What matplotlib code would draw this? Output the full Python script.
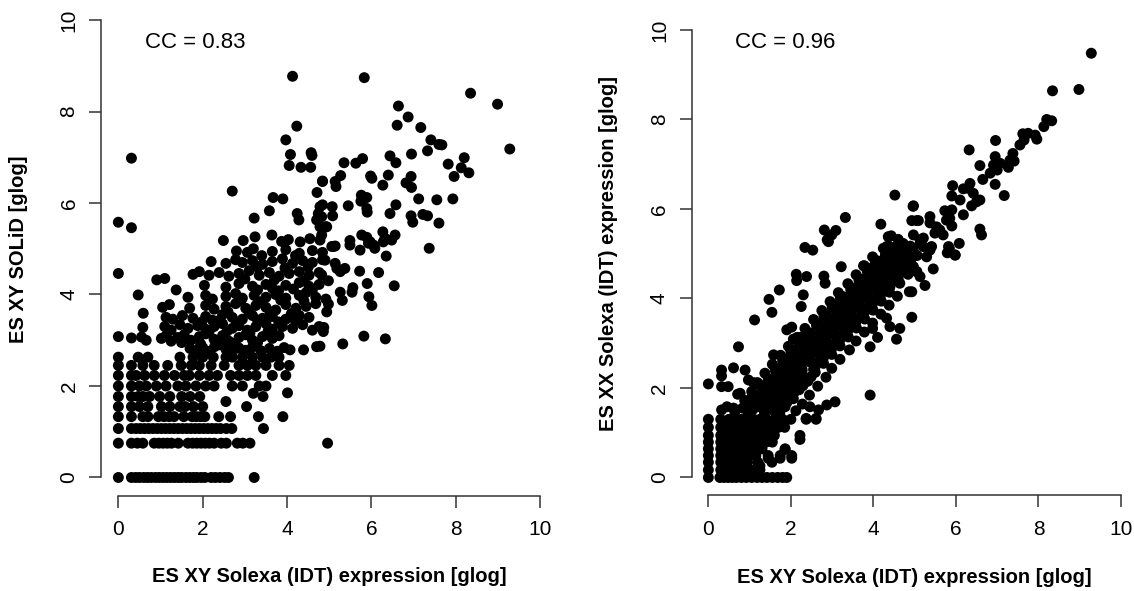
import numpy as np
import matplotlib
matplotlib.use("Agg")
import matplotlib.pyplot as plt

plt.rcParams['font.family'] = ['Liberation Sans', 'DejaVu Sans']

# ---- left panel: SOLiD vs Solexa, discrete low-count rows (y level -> x values)
left_row_levels = [0.0, 0.75, 1.07, 1.33, 1.55, 1.77, 2.0, 2.23, 2.45, 2.63]
left_row_x = [
    [0, 0.31, 0.41, 0.5, 0.6, 0.69, 0.78, 0.88, 0.97, 1.06, 1.15, 1.24, 1.33, 1.42, 1.5, 1.6,
     1.69, 1.78, 1.86, 1.96, 2.05, 2.2, 2.3, 2.41, 2.52, 2.61, 3.22],
    [0, 0.31, 0.45, 0.58, 0.85, 0.96, 1.06, 1.16, 1.26, 1.42, 1.65, 1.76, 1.86, 1.96, 2.06,
     2.16, 2.27, 2.44, 2.56, 2.82, 2.95, 3.12, 4.96],
    [0, 0.31, 0.42, 0.52, 0.62, 0.72, 0.82, 0.92, 1.02, 1.12, 1.22, 1.32, 1.42, 1.52, 1.62,
     1.72, 1.82, 1.92, 2.02, 2.12, 2.22, 2.32, 2.42, 2.56, 2.69, 3.44],
    [0, 0.31, 0.58, 0.7, 0.95, 1.08, 1.2, 1.32, 1.55, 1.75, 1.85, 1.95, 2.05, 2.38, 2.66, 3.32, 3.9],
    [0, 0.31, 0.5, 0.7, 1.02, 1.22, 1.46, 1.58, 1.78, 2.0, 3.04],
    [0, 0.31, 0.47, 0.58, 0.74, 0.98, 1.22, 1.5, 1.7, 1.93, 3.43],
    [0, 0.31, 0.5, 0.66, 0.9, 1.13, 1.41, 1.6, 1.84, 2.07, 2.27, 2.7, 2.94, 3.34, 3.5],
    [0, 0.31, 0.42, 0.62, 0.85, 1.09, 1.33, 1.56, 1.68, 1.92, 2.15, 2.35, 2.66, 2.86, 3.06,
     3.26, 3.65, 3.97],
    [0, 0.31, 0.58, 0.85, 1.17, 1.49, 1.73, 1.92, 2.2, 2.51, 2.86, 3.06, 3.26, 3.5, 3.81, 4.05],
    [0, 0.47, 0.7, 1.46, 1.77, 2.0, 2.25, 2.55, 2.7, 2.94, 3.18, 3.42, 3.62, 3.81],
]

# left panel, continuous part (x, y)
left_body = [
    (2.55, 1.66), (3.2, 1.84), (4.01, 1.85),
    (1.70, 2.82), (1.85, 2.78), (2.0, 2.84), (2.17, 2.76), (2.28, 2.86), (2.55, 2.8), (2.7, 2.74),
    (2.86, 2.83), (3.02, 2.78), (3.18, 2.85), (3.38, 2.77), (3.58, 2.82), (3.77, 2.76), (3.93, 2.84),
    (4.07, 2.79), (4.39, 2.79), (4.7, 2.86),
    (0, 3.08), (0.31, 3.05), (0.55, 3.07), (0.66, 3.0), (1.02, 3.04), (1.13, 3.1), (1.25, 2.98),
    (1.41, 3.06), (1.56, 3.12), (1.72, 3.0), (1.92, 3.08), (2.07, 3.14), (2.27, 3.02), (2.47, 3.1),
    (2.62, 2.98), (2.86, 3.06), (3.02, 3.12), (3.18, 3.0), (3.42, 3.08), (3.65, 3.04), (3.81, 3.1),
    (4.78, 2.87), (5.32, 2.92), (5.82, 3.09), (6.33, 3.03),
    (0.58, 3.28), (1.1, 3.3), (1.25, 3.22), (1.46, 3.34), (1.65, 3.26), (1.88, 3.32), (2.07, 3.24),
    (2.27, 3.3), (2.47, 3.36), (2.7, 3.26), (2.86, 3.32), (3.06, 3.22), (3.26, 3.3), (3.5, 3.36),
    (3.65, 3.24), (3.89, 3.3), (4.13, 3.26), (4.37, 3.34), (4.6, 3.22), (4.76, 3.3), (4.87, 3.28),
    (4.86, 3.19),
    (1.13, 3.5), (1.29, 3.46), (1.52, 3.54), (1.77, 3.48), (2.07, 3.52), (2.23, 3.44), (2.47, 3.56),
    (2.7, 3.5), (2.94, 3.46), (3.18, 3.54), (3.42, 3.48), (3.65, 3.52), (3.97, 3.46), (4.29, 3.54),
    (4.52, 3.5), (4.94, 3.62),
    (0.59, 3.59), (1.05, 3.72), (1.21, 3.78), (1.69, 3.7), (2.07, 3.76), (2.27, 3.68), (2.55, 3.74),
    (2.78, 3.8), (3.02, 3.7), (3.26, 3.76), (3.5, 3.72), (3.73, 3.66), (3.97, 3.78), (4.21, 3.7),
    (4.45, 3.74), (4.68, 3.8), (4.98, 3.79), (5.31, 3.87), (6.01, 3.76),
    (0.47, 3.99), (1.37, 4.1), (1.65, 3.94), (2.07, 3.98), (2.23, 3.9), (2.55, 3.96), (2.78, 4.02),
    (2.94, 3.92), (3.22, 3.98), (3.5, 3.94), (3.73, 4.0), (3.97, 3.92), (4.29, 3.98), (4.45, 4.04),
    (4.68, 3.94), (4.92, 3.90), (5.26, 4.05), (5.94, 3.95),
    (2.04, 4.2), (2.55, 4.16), (2.86, 4.24), (3.18, 4.18), (3.5, 4.22), (3.65, 4.14), (3.97, 4.2),
    (4.29, 4.26), (4.52, 4.18), (4.76, 4.22), (4.98, 4.3), (5.54, 4.05), (5.56, 4.15), (5.9, 4.24),
    (6.54, 4.19),
    (0, 4.46), (0.91, 4.32), (1.1, 4.35), (1.77, 4.44), (1.92, 4.5), (2.15, 4.42), (2.39, 4.48),
    (2.62, 4.4), (2.86, 4.46), (3.1, 4.52), (3.34, 4.42), (3.58, 4.48), (3.81, 4.4), (4.05, 4.46),
    (4.29, 4.5), (4.52, 4.42), (4.76, 4.48), (4.82, 4.43), (5.26, 4.5), (5.72, 4.51), (6.17, 4.48),
    (2.2, 4.72), (2.55, 4.68), (2.78, 4.76), (2.94, 4.7), (3.18, 4.74), (3.42, 4.66), (3.65, 4.72),
    (3.89, 4.78), (4.13, 4.68), (4.37, 4.74), (4.6, 4.7), (4.84, 4.76), (4.9, 4.75), (5.14, 4.68),
    (5.18, 4.57), (5.37, 4.57), (6.35, 4.84),
    (2.8, 4.95), (3.06, 4.92), (3.2, 5.0), (3.65, 4.94), (3.97, 4.98), (4.29, 4.9), (4.6, 4.96),
    (4.84, 4.92), (5.1, 5.05), (5.49, 5.08), (5.73, 4.97), (5.93, 5.12), (6.08, 5.01), (6.28, 5.15),
    (6.48, 5.19), (7.37, 5.01),
    (2.49, 5.18), (2.96, 5.18), (3.24, 5.26), (3.64, 5.3), (3.87, 5.16), (4.03, 5.2), (4.31, 5.15),
    (4.54, 5.22), (4.78, 5.19), (4.82, 5.30), (5.06, 5.05), (5.14, 5.06), (5.49, 5.18), (5.77, 5.3),
    (5.89, 5.25), (5.97, 5.15), (6.05, 5.08), (6.27, 5.37), (6.56, 5.3), (6.32, 5.23),
]

# extra points in the crowded middle of the left cloud
left_core = [
    (1.5, 2.95), (1.95, 2.92), (2.4, 2.9), (2.75, 2.93), (3.3, 2.95), (2.15, 3.18), (2.58, 3.2),
    (3.12, 3.16), (3.55, 3.2), (1.98, 3.4), (2.35, 3.42), (2.8, 3.38), (3.3, 3.44), (3.8, 3.4),
    (4.2, 3.42), (2.6, 3.62), (3.1, 3.6), (3.6, 3.62), (4.1, 3.58), (2.9, 3.86), (3.35, 3.84),
    (3.85, 3.88), (4.4, 3.86), (3.3, 4.1), (3.8, 4.08), (4.15, 4.12), (4.6, 4.1), (3.0, 4.34),
    (3.7, 4.32), (4.4, 4.3), (3.3, 4.6), (3.95, 4.58), (4.5, 4.6), (4.2, 4.85), (3.4, 4.85),
]

left_upper = [
    (4.13, 8.77), (4.23, 7.68), (3.97, 7.38), (4.08, 7.06), (4.57, 7.1), (4.59, 7.04), (4.05, 6.82),
    (4.33, 6.78), (4.56, 6.78), (0.31, 6.98), (4.84, 6.48), (4.71, 6.23), (2.70, 6.26), (3.67, 6.12),
    (3.90, 6.09), (3.58, 5.83), (3.22, 5.67), (0, 5.58), (0.31, 5.46), (4.24, 5.77), (4.28, 5.63),
    (4.78, 5.92), (4.74, 5.77), (4.82, 5.70), (4.70, 5.63), (4.78, 5.48), (4.94, 5.48),
    (5.83, 8.74), (8.35, 8.40), (8.99, 8.16), (9.28, 7.18), (6.64, 8.12), (6.87, 7.88), (6.61, 7.70),
    (7.17, 7.65), (7.41, 7.38), (7.60, 7.28), (7.67, 7.27), (7.33, 7.14), (6.95, 7.07), (6.44, 7.03),
    (6.58, 6.88), (5.79, 6.97), (5.63, 6.87), (5.35, 6.88), (8.20, 6.99), (7.82, 6.85), (8.13, 6.77),
    (8.31, 6.66), (7.96, 6.58), (5.27, 6.60), (5.14, 6.47), (5.16, 6.36), (4.84, 6.47), (5.98, 6.59),
    (6.01, 6.54), (6.40, 6.61), (6.27, 6.39), (6.94, 6.58), (6.82, 6.44), (6.95, 6.34), (7.12, 6.09),
    (7.55, 6.07), (7.93, 6.09), (5.76, 6.17), (5.89, 6.12), (5.75, 6.04), (5.45, 5.94), (5.07, 5.92),
    (5.08, 5.72), (4.84, 5.96), (5.89, 5.88), (5.90, 5.80), (6.58, 5.96), (6.44, 5.77), (6.94, 5.72),
    (6.98, 5.58), (7.22, 5.75), (7.33, 5.72), (7.60, 5.56), (4.92, 5.48),
]

# ---- right panel: XX vs XY Solexa
right_row_levels = [0.0, 0.17, 0.34, 0.49, 0.64, 0.79, 0.94, 1.12, 1.3]
right_row_x = [
    [0, 0.28, 0.38, 0.48, 0.58, 0.68, 0.8, 0.92, 1.05, 1.18, 1.3, 1.42, 1.55, 1.68, 1.8, 1.9],
    [0, 0.3, 0.4, 0.5, 0.6, 0.7, 0.8, 0.9, 1.02, 1.12, 1.25],
    [0, 0.3, 0.4, 0.5, 0.62, 0.72, 0.85, 0.95, 1.2, 1.54],
    [0, 0.3, 0.42, 0.55, 0.65, 0.78, 0.9, 1.0, 1.15, 1.45, 1.74, 2.02],
    [0, 0.3, 0.4, 0.52, 0.64, 0.75, 0.88, 1.0, 1.1, 1.3, 1.86],
    [0, 0.3, 0.42, 0.55, 0.68, 0.8, 0.92, 1.05, 1.2, 1.4, 1.55],
    [0, 0.3, 0.45, 0.6, 0.7, 0.85, 1.0, 1.12, 1.3, 1.45, 1.6, 2.22],
    [0, 0.3, 0.45, 0.6, 0.75, 0.9, 1.05, 1.2, 1.35, 1.5, 1.7, 1.85],
    [0, 0.3, 0.5, 0.65, 0.8, 0.95, 1.1, 1.25, 1.4, 1.6, 1.8, 2.0, 2.37, 2.61],
]

right_band = [
    (0.64, 1.47), (0.83, 1.55), (0.97, 1.43), (1.08, 1.52), (1.27, 1.57), (1.36, 1.44), (1.57, 1.5),
    (1.73, 1.45), (1.86, 1.58), (2.12, 1.49),
    (0.88, 1.72), (0.98, 1.63), (1.17, 1.77), (1.26, 1.66), (1.45, 1.7), (1.6, 1.63), (1.69, 1.78),
    (1.9, 1.67), (2.06, 1.76), (2.28, 1.64),
    (1.05, 1.92), (1.16, 1.83), (1.35, 1.97), (1.43, 1.86), (1.6, 1.94), (1.79, 1.84), (1.88, 1.99),
    (2.08, 1.9), (2.2, 1.96), (2.45, 1.84),
    (1.19, 2.12), (1.39, 2.03), (1.48, 2.17), (1.69, 2.06), (1.77, 2.15), (1.99, 2.02), (2.1, 2.18),
    (2.29, 2.05), (2.41, 2.15), (2.65, 2.04),
    (1.37, 2.33), (1.58, 2.22), (1.67, 2.37), (1.89, 2.26), (1.97, 2.35), (2.19, 2.22), (2.27, 2.38),
    (2.49, 2.25), (2.59, 2.35), (2.85, 2.24),
    (1.55, 2.53), (1.68, 2.43), (1.88, 2.57), (1.98, 2.46), (2.19, 2.55), (2.27, 2.42), (2.49, 2.57),
    (2.58, 2.45), (2.79, 2.55), (2.99, 2.44),
    (1.75, 2.73), (1.87, 2.63), (2.08, 2.77), (2.18, 2.66), (2.39, 2.75), (2.47, 2.62), (2.69, 2.77),
    (2.78, 2.65), (2.99, 2.75), (3.19, 2.64),
    (1.94, 2.93), (2.07, 2.84), (2.28, 2.97), (2.37, 2.86), (2.58, 2.95), (2.68, 2.83), (2.88, 2.96),
    (2.98, 2.86), (3.19, 2.94), (3.42, 2.85), (3.92, 2.92),
    (2.15, 3.13), (2.27, 3.04), (2.49, 3.17), (2.57, 3.06), (2.79, 3.15), (2.87, 3.03), (3.09, 3.16),
    (3.18, 3.06), (3.39, 3.14), (3.58, 3.05), (4.10, 3.13), (4.56, 3.09),
    (2.34, 3.33), (2.47, 3.23), (2.69, 3.37), (2.77, 3.26), (2.99, 3.35), (3.07, 3.23), (3.29, 3.36),
    (3.37, 3.26), (3.59, 3.34), (3.78, 3.25), (3.98, 3.33), (4.40, 3.37), (4.64, 3.33),
    (2.55, 3.53), (2.67, 3.44), (2.89, 3.57), (2.97, 3.46), (3.19, 3.55), (3.27, 3.43), (3.49, 3.56),
    (3.57, 3.46), (3.79, 3.54), (3.98, 3.45), (4.32, 3.56), (4.93, 3.58),
    (2.75, 3.73), (2.87, 3.63), (3.09, 3.77), (3.17, 3.66), (3.39, 3.75), (3.47, 3.63), (3.69, 3.76),
    (3.77, 3.66), (3.99, 3.74), (4.18, 3.65),
    (2.95, 3.93), (3.07, 3.84), (3.29, 3.97), (3.37, 3.86), (3.59, 3.95), (3.67, 3.83), (3.89, 3.96),
    (3.97, 3.86), (4.19, 3.94), (4.38, 3.85),
    (3.15, 4.13), (3.27, 4.04), (3.49, 4.17), (3.57, 4.06), (3.79, 4.15), (3.87, 4.03), (4.09, 4.16),
    (4.17, 4.06), (4.39, 4.14), (4.58, 4.05), (4.87, 4.15),
    (3.38, 4.33), (3.5, 4.23), (3.69, 4.37), (3.78, 4.26), (3.99, 4.35), (4.08, 4.23), (4.29, 4.36),
    (4.4, 4.26), (4.64, 4.34), (5.25, 4.29),
    (3.58, 4.53), (3.7, 4.43), (3.89, 4.57), (3.98, 4.46), (4.19, 4.55), (4.28, 4.43), (4.49, 4.56),
    (4.6, 4.46), (4.84, 4.54), (5.13, 4.49),
    (3.78, 4.73), (3.9, 4.63), (4.09, 4.77), (4.18, 4.66), (4.39, 4.75), (4.48, 4.63), (4.69, 4.76),
    (4.84, 4.66), (5.05, 4.6), (4.97, 4.71), (5.45, 4.66),
    (3.98, 4.93), (4.1, 4.84), (4.29, 4.97), (4.4, 4.86), (4.59, 4.95), (4.68, 4.83), (4.91, 4.88),
    (5.06, 4.96), (5.29, 4.93), (5.98, 4.97),
    (4.24, 5.12), (4.34, 5.04), (4.55, 5.16), (4.64, 5.06), (4.85, 5.14), (4.97, 5.06), (5.21, 5.16),
    (5.37, 5.08), (5.84, 5.12), (5.79, 5.02),
    (4.43, 5.4), (4.6, 5.32), (4.72, 5.23), (4.37, 5.17), (4.89, 5.17), (5.13, 5.31), (5.13, 5.23),
    (4.97, 5.42),
]

# extra points filling the dense centre of the band
right_core = [
    (1.05, 1.6), (1.22, 1.61), (1.5, 1.59), (1.78, 1.62),
    (1.1, 1.81), (1.38, 1.79), (1.55, 1.82), (1.83, 1.8), (2.0, 1.81),
    (1.3, 2.0), (1.55, 2.01), (1.72, 1.99), (1.9, 2.0), (2.18, 2.01),
    (1.45, 2.2), (1.78, 2.21), (1.95, 2.19), (2.08, 2.2), (2.38, 2.21),
    (1.62, 2.4), (1.8, 2.41), (2.08, 2.39), (2.25, 2.4), (2.55, 2.41),
    (1.8, 2.6), (2.05, 2.61), (2.25, 2.59), (2.42, 2.6), (2.7, 2.61),
    (2.0, 2.8), (2.3, 2.81), (2.45, 2.79), (2.62, 2.8), (2.9, 2.81),
    (2.2, 3.0), (2.5, 3.01), (2.66, 2.99), (2.83, 3.0), (3.1, 3.01),
    (2.4, 3.2), (2.7, 3.21), (2.86, 3.19), (3.03, 3.2), (3.3, 3.21),
    (2.62, 3.4), (2.9, 3.41), (3.05, 3.39), (3.22, 3.4), (3.5, 3.41),
    (2.8, 3.6), (3.1, 3.61), (3.25, 3.59), (3.43, 3.6), (3.7, 3.61),
    (3.0, 3.8), (3.3, 3.81), (3.46, 3.79), (3.62, 3.8), (3.9, 3.81),
    (3.2, 4.0), (3.5, 4.01), (3.66, 3.99), (3.82, 4.0), (4.1, 4.01),
    (3.45, 4.2), (3.72, 4.21), (3.86, 4.19), (4.02, 4.2), (4.3, 4.21),
    (3.65, 4.4), (3.92, 4.41), (4.06, 4.39), (4.22, 4.4), (4.5, 4.41),
    (3.85, 4.6), (4.12, 4.61), (4.26, 4.59), (4.42, 4.6), (4.7, 4.61),
    (4.05, 4.8), (4.32, 4.81), (4.46, 4.79), (4.62, 4.8), (4.9, 4.81),
    (4.3, 5.0), (4.55, 5.01), (4.72, 4.99), (4.88, 5.0),
]

right_outliers = [
    (2.34, 5.14), (2.53, 5.08), (2.91, 5.27), (2.81, 5.53), (3.09, 5.52), (2.88, 5.31), (2.99, 5.42),
    (3.32, 5.81), (4.18, 5.66), (3.22, 4.71), (2.13, 4.54), (2.14, 4.40), (2.38, 4.49), (2.80, 4.50),
    (2.83, 4.34), (1.72, 4.19), (1.47, 3.98), (1.54, 3.69), (1.12, 3.52), (2.30, 4.08), (2.25, 3.82),
    (0.73, 2.92), (1.90, 3.30), (2.02, 3.36), (2.06, 3.09), (2.22, 3.13), (2.30, 3.07), (1.58, 2.74),
    (0.61, 2.45), (0.89, 2.40), (0.32, 2.40), (0.32, 2.27), (0, 2.09), (0.32, 2.03), (0.48, 2.03),
    (0.97, 2.18), (1.09, 2.12), (1.24, 2.07), (0.71, 1.86), (0.99, 1.73), (1.17, 1.81), (1.05, 1.66),
    (0.32, 1.51), (0.45, 1.58), (0.61, 1.55), (0.77, 1.88),
    (3.47, 4.17), (3.72, 4.38), (3.96, 4.49), (3.76, 4.73), (4.0, 4.71), (4.36, 5.38), (4.32, 5.16),
    (4.40, 4.97),
    (3.92, 1.84), (3.07, 1.69), (2.87, 1.62), (2.67, 1.51), (2.46, 1.58), (2.37, 1.32), (2.61, 1.32),
    (2.22, 0.85), (1.86, 0.63), (2.02, 0.43), (1.74, 0.43), (1.45, 0.43), (1.25, 0.26),
]

right_upper = [
    (4.52, 6.31), (4.96, 6.06), (4.93, 5.74), (5.05, 5.74), (9.28, 9.48), (8.34, 8.64), (8.98, 8.67),
    (8.20, 8.00), (8.32, 7.97), (8.13, 7.84), (7.62, 7.68), (7.75, 7.69), (7.92, 7.65), (7.96, 7.56),
    (7.55, 7.43), (7.65, 7.54), (6.96, 7.53), (6.32, 7.32), (7.38, 7.24), (7.41, 7.07), (7.27, 6.93),
    (7.31, 7.09), (6.95, 7.17), (6.91, 6.98), (7.07, 7.02), (7.00, 6.87), (6.58, 6.97), (6.83, 6.80),
    (6.65, 6.66), (6.95, 6.55), (7.17, 6.30), (5.92, 6.52), (6.34, 6.57), (6.30, 6.46), (6.42, 6.35),
    (6.18, 6.45), (5.90, 6.29), (6.10, 6.20), (6.50, 6.16), (6.58, 6.20), (6.38, 6.07), (6.18, 5.87),
    (5.73, 5.96), (5.90, 5.98), (5.85, 5.79), (5.77, 5.75), (5.90, 5.62), (6.58, 5.55), (6.62, 5.42),
    (6.08, 5.23), (5.82, 5.16), (5.37, 5.83), (5.37, 5.69), (5.53, 5.60), (5.61, 5.53), (5.69, 5.42),
    (5.49, 5.46), (4.97, 6.07), (5.09, 5.74), (5.21, 5.35), (5.41, 5.16), (5.98, 4.97), (4.93, 4.15),
    (5.05, 4.60), (4.89, 4.86),
]

ticks = [0, 2, 4, 6, 8, 10]
x_label = "ES XY Solexa (IDT) expression [glog]"
y_labels = ["ES XY SOLiD [glog]", "ES XX Solexa (IDT) expression [glog]"]
cc_text = ["CC = 0.83", "CC = 0.96"]


def gather(levels, rows, *pairs):
    xs, ys = [], []
    for lv, row in zip(levels, rows):
        xs += row
        ys += [lv] * len(row)
    for group in pairs:
        xs += [p[0] for p in group]
        ys += [p[1] for p in group]
    return np.array(xs), np.array(ys)


left_x, left_y = gather(left_row_levels, left_row_x, left_body, left_core, left_upper)
right_x, right_y = gather(right_row_levels, right_row_x, right_band, right_core,
                          right_outliers, right_upper)

fig = plt.figure(figsize=(11.34, 5.91), dpi=100)
ax1 = fig.add_axes([0.0895, 0.1611, 0.4017, 0.836])
ax2 = fig.add_axes([0.6101, 0.1618, 0.3930, 0.8178])

panels = [(ax1, left_x, left_y, -0.183, -0.164), (ax2, right_x, right_y, -0.188, -0.169)]
for i, (ax, xs, ys, ylx, xly) in enumerate(panels):
    ax.scatter(xs, ys, s=62, c='black', edgecolors='none')
    ax.set_xlim(-0.4, 10.4)
    ax.set_ylim(-0.4, 10.4)
    for side in ('top', 'right'):
        ax.spines[side].set_visible(False)
    ax.spines['left'].set_bounds(0, 10)
    ax.spines['bottom'].set_bounds(0, 10)
    for side in ('left', 'bottom'):
        ax.spines[side].set_linewidth(1.1)
        ax.spines[side].set_color('#333333')
    ax.set_xticks(ticks)
    ax.set_yticks(ticks)
    ax.set_yticklabels([str(t) for t in ticks], rotation=90, va='center')
    ax.tick_params(length=8.5, width=1.1, color='#333333', labelsize=15, pad=9)
    ax.tick_params(axis='y', pad=8)
    ax.set_xlabel(x_label, fontsize=14.5, fontweight='bold', va='center')
    ax.xaxis.set_label_coords(0.5, xly)
    ax.set_ylabel(y_labels[i], fontsize=14.5, fontweight='bold', va='center')
    ax.yaxis.set_label_coords(ylx, 0.5)
    ax.text(0.64, 9.5 if i == 0 else 9.71, cc_text[i], fontsize=16, ha='left', va='center')

fig.savefig("out.png", dpi=100)
